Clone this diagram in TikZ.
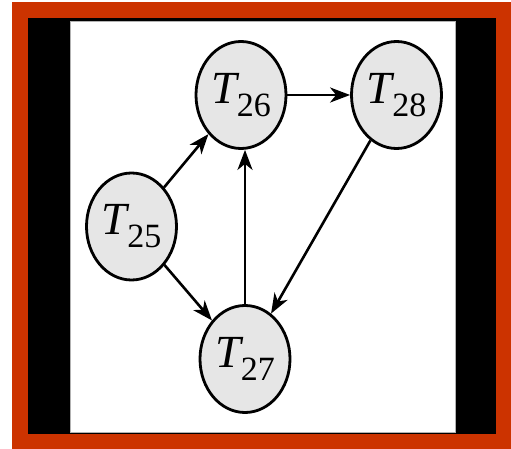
\documentclass[tikz,border=0pt]{standalone}
\usepackage{fontspec}
\setmainfont{Liberation Serif}
\usetikzlibrary{shapes.geometric,arrows.meta}
\definecolor{frameRed}{RGB}{204,51,0}
\definecolor{nodeGray}{RGB}{230,230,230}
\newcommand\lab[1]{{\fontsize{46}{46}\selectfont\itshape T}\raisebox{-13pt}{\fontsize{34}{34}\selectfont #1}}
\begin{document}
\begin{tikzpicture}[x=1pt,y=-1pt,
  tnode/.style={ellipse,draw=black,line width=2.8pt,fill=nodeGray,inner sep=0pt,
    minimum width=90pt,minimum height=107pt},
  edge/.style={line width=2.6pt,-{Stealth[length=20pt,width=15pt,inset=6pt]}}]
\useasboundingbox (0,0) rectangle (511,449);
\fill[white] (0,0) rectangle (511,449);
\fill[frameRed] (12,2) rectangle (511,449);
\fill[black] (28,18) rectangle (496,434);
\fill[white] (70,21) rectangle (455,432);
\draw[gray!60,line width=0.8pt] (70,21) rectangle (455,432);
\node[tnode] (T26) at (241,95) {\lab{26}};
\node[tnode] (T28) at (396.5,95) {\lab{28}};
\node[tnode] (T25) at (131.5,226.5) {\lab{25}};
\node[tnode] (T27) at (245,359) {\lab{27}};
\draw[edge] (T25) -- (T26);
\draw[edge] (T25) -- (T27);
\draw[edge] (T26) -- (T28);
\draw[edge] (T28) -- (T27);
\draw[edge] (T27.north) -- (T27.north |- T26.south);
\end{tikzpicture}
\end{document}
